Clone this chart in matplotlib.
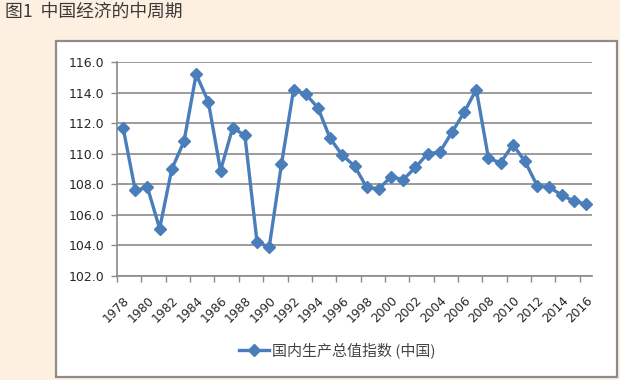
import matplotlib.pyplot as plt
from matplotlib.patches import Rectangle
from matplotlib.lines import Line2D

plt.rcParams['font.family'] = ['Noto Sans CJK SC', 'DejaVu Sans']

years = list(range(1978, 2017))
gdp_index = [111.7, 107.6, 107.8, 105.1, 109.0, 110.8, 115.2, 113.4, 108.9, 111.7,
             111.2, 104.2, 103.9, 109.3, 114.2, 113.9, 113.0, 111.0, 109.9, 109.2,
             107.8, 107.7, 108.5, 108.3, 109.1, 110.0, 110.1, 111.4, 112.7, 114.2,
             109.7, 109.4, 110.6, 109.5, 107.9, 107.8, 107.3, 106.9, 106.7]
y_ticks = [102, 104, 106, 108, 110, 112, 114, 116]

line_color = "#4a7ebb"
grid_color = "#8a8a8a"
text_color = "#262626"

fig = plt.figure(figsize=(6.2, 3.8), dpi=100, facecolor="#fdf0e0")

# white chart box with grey border
box = Rectangle((56 / 620, 1 - 377 / 380), (617 - 56) / 620, (377 - 41) / 380,
                transform=fig.transFigure, facecolor="white", edgecolor="#8c8c8c",
                linewidth=1.6, zorder=-1)
fig.patches.append(box)

fig.text(5 / 620, 1 - 12 / 380, "图1  中国经济的中周期", fontsize=12.8,
         color="#3a3a3a", va="center", ha="left")

ax = fig.add_axes([117 / 620, 1 - 276 / 380, (592 - 117) / 620, (276 - 62) / 380])
ax.set_zorder(1)
ax.set_facecolor("none")

x = list(range(len(years)))
ax.plot(x, gdp_index, color=line_color, linewidth=2.4, marker="D",
        markersize=6, markerfacecolor=line_color, markeredgecolor=line_color,
        zorder=3, clip_on=False)

ax.set_xlim(-0.5, len(years) - 0.5)
ax.set_ylim(102, 116)
ax.set_yticks(y_ticks)
ax.set_yticklabels([f"{v:.1f}" for v in y_ticks], fontsize=9, color=text_color,
                   family=["DejaVu Sans"])
ax.yaxis.grid(True, color=grid_color, linewidth=1.2)
ax.set_axisbelow(True)

# labels at every second category, tick marks on category boundaries
ax.set_xticks(x[::2])
ax.set_xticklabels([str(y) for y in years[::2]], rotation=45, ha="right",
                   va="top", rotation_mode="anchor", fontsize=8.8, color=text_color,
                   family=["DejaVu Sans"])
ax.set_xticks([i - 0.5 for i in range(0, len(years) + 1, 2)], minor=True)
ax.tick_params(axis="x", which="major", length=0, pad=13)
ax.tick_params(axis="x", which="minor", length=4, color=grid_color, width=1)
ax.tick_params(axis="y", length=4, color=grid_color, width=1, pad=5)

for side in ["top", "right"]:
    ax.spines[side].set_visible(False)
ax.spines["left"].set_color(grid_color)
ax.spines["bottom"].set_color(grid_color)
ax.spines["left"].set_linewidth(1.2)
ax.spines["bottom"].set_linewidth(1.2)

handle = Line2D([], [], color=line_color, linewidth=2.4, marker="D", markersize=6)
fig.legend([handle], ["国内生产总值指数 (中国)"], loc="center",
           bbox_to_anchor=(337 / 620, 1 - 350 / 380), frameon=False,
           fontsize=10.8, handlelength=2.0, handletextpad=0.2,
           labelcolor="#444444")

fig.savefig("out.png", dpi=100, facecolor=fig.get_facecolor())
